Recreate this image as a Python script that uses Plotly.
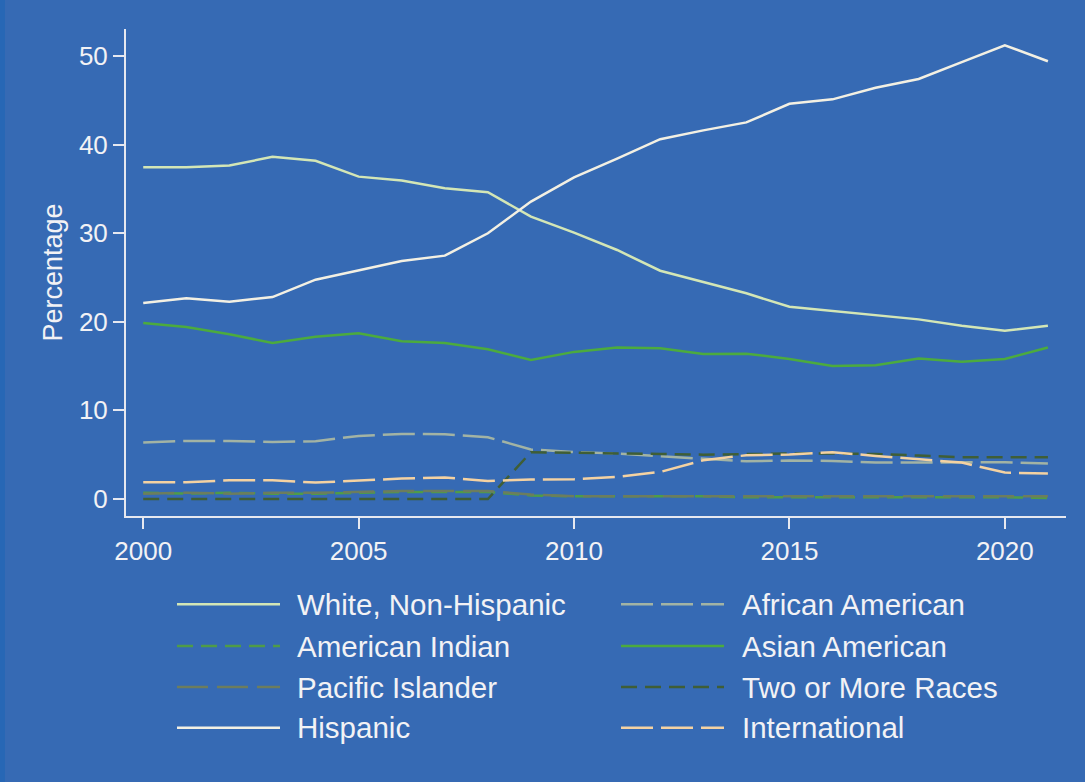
import plotly.graph_objects as go

years = list(range(2000, 2022))

white_non_hispanic = [37.45, 37.45, 37.63, 38.61, 38.16, 36.38, 35.93, 35.07, 34.62, 31.86, 30.06,
                      28.10, 25.76, 24.52, 23.21, 21.69, 21.21, 20.76, 20.27, 19.55, 18.98, 19.55]
african_american = [6.37, 6.55, 6.55, 6.44, 6.52, 7.12, 7.34, 7.31, 6.97, 5.58, 5.31,
                    5.13, 4.82, 4.56, 4.26, 4.34, 4.29, 4.11, 4.15, 4.18, 4.15, 4.0]
american_indian = [0.7, 0.6, 0.7, 0.6, 0.6, 0.7, 0.8, 0.8, 0.8, 0.4, 0.3,
                   0.3, 0.3, 0.3, 0.2, 0.2, 0.2, 0.2, 0.2, 0.2, 0.2, 0.1]
asian_american = [19.85, 19.4, 18.6, 17.6, 18.3, 18.7, 17.8, 17.6, 16.9, 15.7, 16.6,
                  17.1, 17.0, 16.35, 16.4, 15.8, 15.0, 15.1, 15.85, 15.5, 15.8, 17.1]
pacific_islander = [0.6, 0.7, 0.6, 0.7, 0.7, 0.8, 0.9, 0.9, 0.9, 0.5, 0.3,
                    0.3, 0.3, 0.3, 0.3, 0.3, 0.3, 0.3, 0.3, 0.3, 0.3, 0.3]
two_or_more = [0, 0, 0, 0, 0, 0, 0, 0, 0, 5.28, 5.24,
               5.2, 5.08, 5.0, 5.08, 5.13, 5.13, 5.08, 4.9, 4.71, 4.71, 4.71]
hispanic = [22.11, 22.64, 22.26, 22.79, 24.75, 25.84, 26.86, 27.46, 29.99, 33.56, 36.3,
            38.4, 40.6, 41.6, 42.5, 44.6, 45.1, 46.4, 47.4, 49.3, 51.2, 49.4]
international = [1.89, 1.89, 2.11, 2.11, 1.85, 2.08, 2.3, 2.42, 2.03, 2.19, 2.23,
                 2.49, 3.05, 4.37, 4.94, 5.02, 5.28, 4.86, 4.49, 4.11, 2.98, 2.87]

x_ticks = [2000, 2005, 2010, 2015, 2020]
y_ticks = [0, 10, 20, 30, 40, 50]

series = [
    ("White, Non-Hispanic", white_non_hispanic, "#d3e6b6", "solid"),
    ("African American", african_american, "#a2b3a4", "32px,8px"),
    ("American Indian", american_indian, "#4f9c48", "16px,8px"),
    ("Asian American", asian_american, "#4cab3e", "solid"),
    ("Pacific Islander", pacific_islander, "#6c7d5e", "31px,9px"),
    ("Two or More Races", two_or_more, "#3f5e36", "16px,8px"),
    ("Hispanic", hispanic, "#f3f0e3", "solid"),
    ("International", international, "#f4d2a2", "32px,8px"),
]

W, H = 1085, 782
ML, MR, MT, MB = 126, 19, 29, 266
PW, PH = W - ML - MR, H - MT - MB
BG = "#366ab4"
FG = "#f2f2f5"
FONT = "Liberation Sans, Arial, sans-serif"


def px(x):
    return (x - ML) / PW


def py(y):
    return (H - MB - y) / PH


fig = go.Figure()
for name, vals, color, dash in series:
    fig.add_trace(go.Scatter(x=years, y=vals, mode="lines", name=name, showlegend=False,
                             line=dict(color=color, width=2.5, dash=dash)))

shapes = [dict(type="rect", xref="paper", yref="paper", x0=px(0), x1=px(5), y0=py(H), y1=py(0),
               fillcolor="#2767b5", line=dict(width=0), layer="below")]
annotations = [dict(text="Percentage", xref="paper", yref="paper", x=px(52), y=py(272.5),
                    textangle=-90, showarrow=False, xanchor="center", yanchor="middle",
                    font=dict(family=FONT, size=27, color=FG))]

row_y = [604.3, 646, 687, 727.7]
cols = [(177, 280, 295), (621, 724, 740)]
for i, (name, vals, color, dash) in enumerate(series):
    r, c = i // 2, i % 2
    x0, x1, xt = cols[c]
    yy = row_y[r]
    shapes.append(dict(type="line", xref="paper", yref="paper", x0=px(x0), x1=px(x1),
                       y0=py(yy), y1=py(yy), line=dict(color=color, width=2.5, dash=dash)))
    annotations.append(dict(text=name, xref="paper", yref="paper", x=px(xt), y=py(yy),
                            showarrow=False, xanchor="left", yanchor="middle",
                            font=dict(family=FONT, size=29.5, color=FG)))

fig.update_layout(
    width=W, height=H,
    margin=dict(l=ML, r=MR, t=MT, b=MB, autoexpand=False),
    paper_bgcolor=BG, plot_bgcolor=BG,
    font=dict(family=FONT, color=FG),
    shapes=shapes, annotations=annotations,
    hovermode=False,
    xaxis=dict(range=[1999.6, 2021.42], tickvals=x_ticks, ticktext=[str(v) for v in x_ticks],
               showgrid=False, zeroline=False, showline=True, linecolor="#e6e8f0", linewidth=2,
               ticks="outside", ticklen=11, tickwidth=2, tickcolor="#e6e8f0",
               tickfont=dict(family=FONT, size=26, color=FG)),
    yaxis=dict(range=[-1.92, 53.04], tickvals=y_ticks, ticktext=[str(v) for v in y_ticks],
               showgrid=False, zeroline=False, showline=True, linecolor="#e6e8f0", linewidth=2,
               ticks="outside", ticklen=11, tickwidth=2, tickcolor="#e6e8f0",
               tickfont=dict(family=FONT, size=26, color=FG)),
)

fig.write_html("out.html", config={"displayModeBar": False},
               post_script="document.body.style.margin='0px';document.body.style.overflow='hidden';")
